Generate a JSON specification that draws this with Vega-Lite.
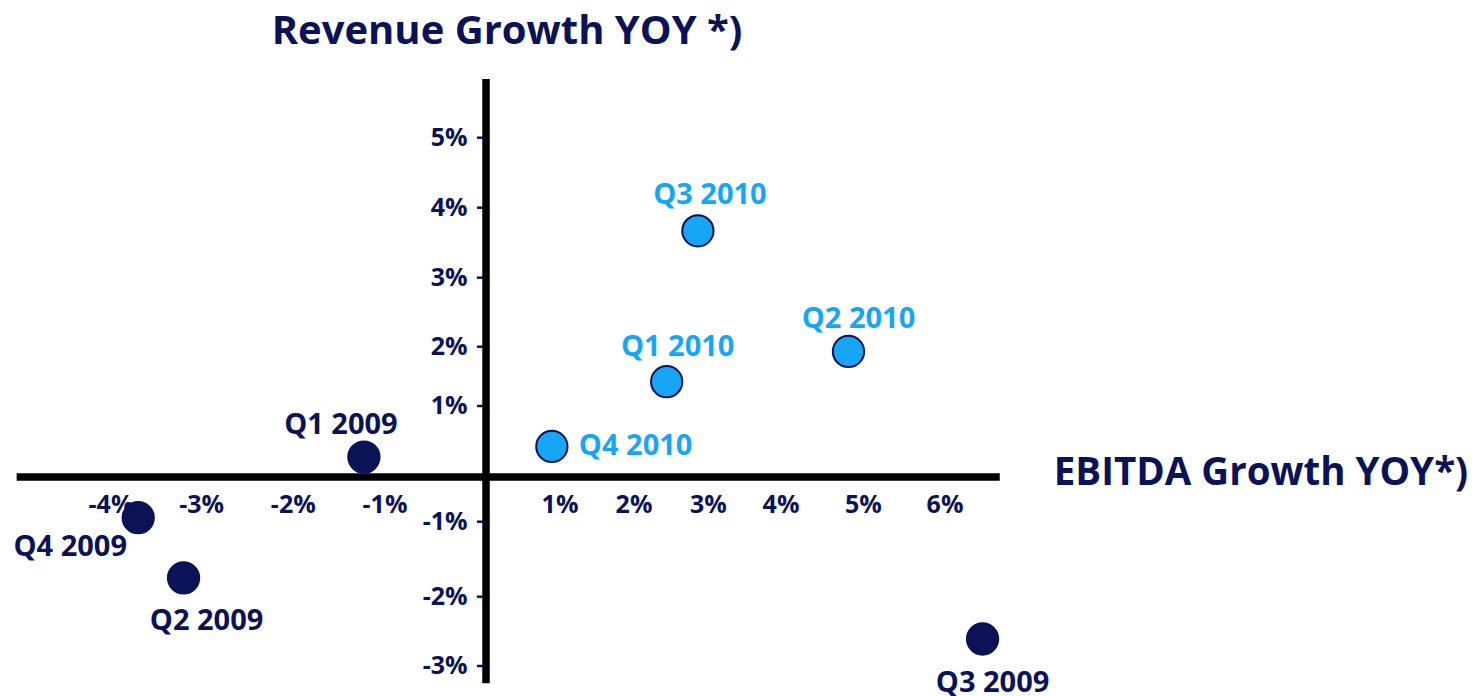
{
  "$schema": "https://vega.github.io/schema/vega-lite/v6.json",
  "width": 1482,
  "height": 696,
  "autosize": "none",
  "padding": 0,
  "background": "white",
  "config": {"view": {"stroke": null}, "text": {"font": "Open Sans", "fontWeight": "bold"}},
  "datasets": {
    "points": [
      {"quarter": "Q1 2009", "year": "2009", "ebitda": -1.23, "revenue": 0.28},
      {"quarter": "Q2 2009", "year": "2009", "ebitda": -3.2, "revenue": -1.75},
      {"quarter": "Q3 2009", "year": "2009", "ebitda": 6.46, "revenue": -2.61},
      {"quarter": "Q4 2009", "year": "2009", "ebitda": -3.7, "revenue": -0.91},
      {"quarter": "Q1 2010", "year": "2010", "ebitda": 2.44, "revenue": 1.41},
      {"quarter": "Q2 2010", "year": "2010", "ebitda": 4.82, "revenue": 1.92},
      {"quarter": "Q3 2010", "year": "2010", "ebitda": 2.86, "revenue": 3.67},
      {"quarter": "Q4 2010", "year": "2010", "ebitda": 0.89, "revenue": 0.43}
    ],
    "xticks": [
      {"v": -4, "label": "-4%"}, {"v": -3, "label": "-3%"}, {"v": -2, "label": "-2%"}, {"v": -1, "label": "-1%"},
      {"v": 1, "label": "1%"}, {"v": 2, "label": "2%"}, {"v": 3, "label": "3%"}, {"v": 4, "label": "4%"},
      {"v": 5, "label": "5%"}, {"v": 6, "label": "6%"}
    ],
    "yticks": [
      {"v": -3, "label": "-3%"}, {"v": -2, "label": "-2%"}, {"v": -1, "label": "-1%"},
      {"v": 1, "label": "1%"}, {"v": 2, "label": "2%"}, {"v": 3, "label": "3%"}, {"v": 4, "label": "4%"}, {"v": 5, "label": "5%"}
    ],
    "one": [{}]
  },
  "layer": [
    {
      "data": {"name": "yticks"},
      "mark": {"type": "rule", "color": "#0B1255", "strokeWidth": 2.5},
      "encoding": {
        "x": {"datum": -0.09, "type": "quantitative", "axis": null, "scale": {"domain": [-4,-3,-2,-1,0,1,2,3,4,5,6], "range": [111,201.7,293.3,385,486,560,634,708.3,781,863.3,945], "nice": false, "zero": false}},
        "x2": {"datum": 0},
        "y": {"field": "v", "type": "quantitative", "axis": null, "scale": {"domain": [-3,-2,-1,0,1,2,3,4,5], "range": [666,596.7,521.7,477,406,346.7,277.7,207.7,137.7], "nice": false, "zero": false}}
      }
    },
    {
      "data": {"name": "one"},
      "mark": {"type": "rule", "color": "#000000", "strokeWidth": 7.5},
      "encoding": {
        "x": {"datum": -5.04, "type": "quantitative", "axis": null},
        "x2": {"datum": 6.67},
        "y": {"datum": 0, "type": "quantitative", "axis": null}
      }
    },
    {
      "data": {"name": "one"},
      "mark": {"type": "rule", "color": "#000000", "strokeWidth": 7.5},
      "encoding": {
        "x": {"datum": 0, "type": "quantitative", "axis": null},
        "y": {"datum": 5.84, "type": "quantitative", "axis": null},
        "y2": {"datum": -3.25}
      }
    },
    {
      "data": {"name": "xticks"},
      "mark": {"type": "text", "fontSize": 25, "color": "#0B1255", "align": "center", "baseline": "middle", "dy": 28},
      "encoding": {
        "x": {"field": "v", "type": "quantitative", "axis": null},
        "y": {"datum": 0, "type": "quantitative", "axis": null},
        "text": {"field": "label"}
      }
    },
    {
      "data": {"name": "yticks"},
      "mark": {"type": "text", "fontSize": 25, "color": "#0B1255", "align": "right", "baseline": "middle", "dx": -18.5},
      "encoding": {
        "x": {"datum": 0, "type": "quantitative", "axis": null},
        "y": {"field": "v", "type": "quantitative", "axis": null},
        "text": {"field": "label"}
      }
    },
    {
      "data": {"name": "points"},
      "mark": {"type": "circle", "size": 980, "opacity": 1, "stroke": "#0B1255", "strokeWidth": 2},
      "encoding": {
        "x": {"field": "ebitda", "type": "quantitative", "axis": null},
        "y": {"field": "revenue", "type": "quantitative", "axis": null},
        "color": {"field": "year", "type": "nominal", "legend": null, "scale": {"domain": ["2009", "2010"], "range": ["#0B1255", "#17A6F6"]}}
      }
    },
    {
      "data": {"name": "points"},
      "layer": [
        {"transform": [{"filter": "datum.quarter === 'Q3 2010'"}], "mark": {"type": "text", "fontSize": 29, "align": "center", "baseline": "middle", "dx": 12, "dy": -36}},
        {"transform": [{"filter": "datum.quarter === 'Q2 2010'"}], "mark": {"type": "text", "fontSize": 29, "align": "center", "baseline": "middle", "dx": 10, "dy": -32}},
        {"transform": [{"filter": "datum.quarter === 'Q1 2010'"}], "mark": {"type": "text", "fontSize": 29, "align": "center", "baseline": "middle", "dx": 11, "dy": -35}},
        {"transform": [{"filter": "datum.quarter === 'Q4 2010'"}], "mark": {"type": "text", "fontSize": 29, "align": "left", "baseline": "middle", "dx": 27, "dy": 0}},
        {"transform": [{"filter": "datum.quarter === 'Q1 2009'"}], "mark": {"type": "text", "fontSize": 29, "align": "center", "baseline": "middle", "dx": -23, "dy": -32}},
        {"transform": [{"filter": "datum.quarter === 'Q4 2009'"}], "mark": {"type": "text", "fontSize": 29, "align": "center", "baseline": "middle", "dx": -68, "dy": 29}},
        {"transform": [{"filter": "datum.quarter === 'Q2 2009'"}], "mark": {"type": "text", "fontSize": 29, "align": "center", "baseline": "middle", "dx": 23, "dy": 43}},
        {"transform": [{"filter": "datum.quarter === 'Q3 2009'"}], "mark": {"type": "text", "fontSize": 29, "align": "center", "baseline": "middle", "dx": 10, "dy": 44}}
      ],
      "encoding": {
        "x": {"field": "ebitda", "type": "quantitative", "axis": null},
        "y": {"field": "revenue", "type": "quantitative", "axis": null},
        "text": {"field": "quarter"},
        "color": {"field": "year", "type": "nominal", "legend": null}
      }
    },
    {
      "data": {"name": "one"},
      "mark": {"type": "text", "fontSize": 40, "color": "#0B1255", "align": "center", "baseline": "middle", "dx": 21, "dy": -47, "text": "Revenue Growth YOY *)"},
      "encoding": {
        "x": {"datum": 0, "type": "quantitative", "axis": null},
        "y": {"datum": 5.84, "type": "quantitative", "axis": null}
      }
    },
    {
      "data": {"name": "one"},
      "mark": {"type": "text", "fontSize": 38.5, "color": "#0B1255", "align": "left", "baseline": "middle", "dx": 54, "dy": -4, "text": "EBITDA Growth YOY*)"},
      "encoding": {
        "x": {"datum": 6.67, "type": "quantitative", "axis": null},
        "y": {"datum": 0, "type": "quantitative", "axis": null}
      }
    }
  ]
}
